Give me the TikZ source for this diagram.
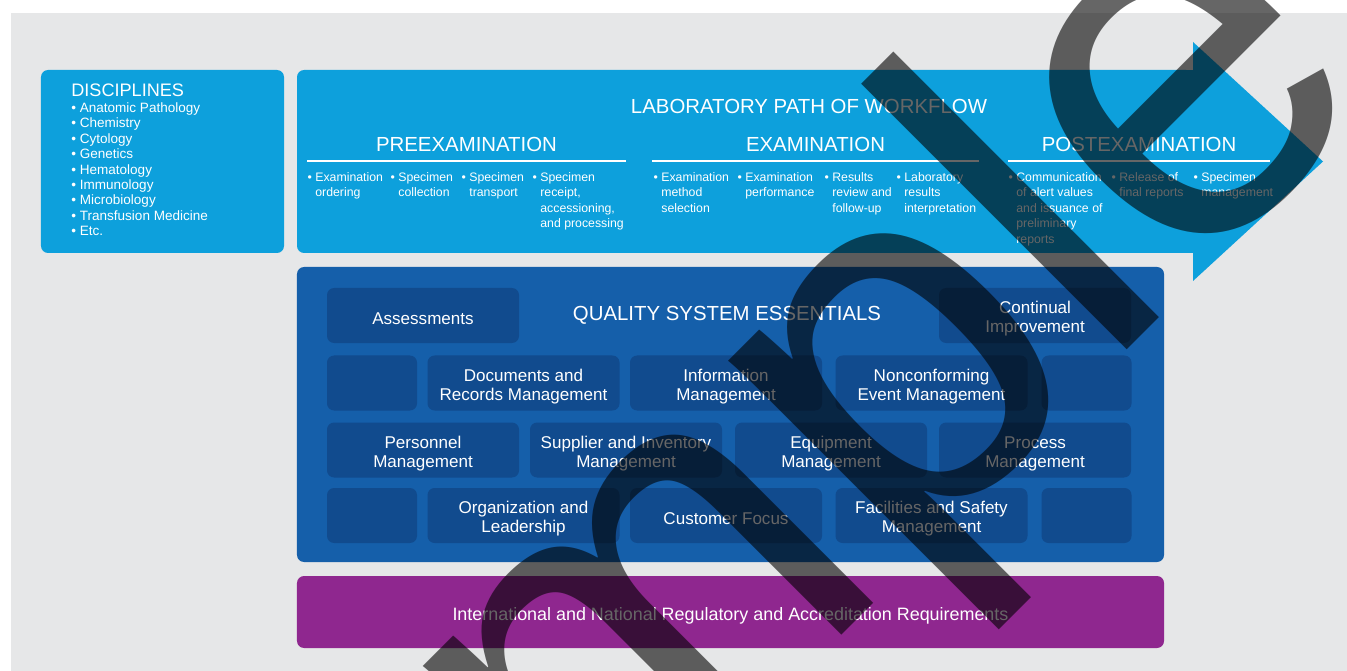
\documentclass[tikz,border=0pt]{standalone}
\usepackage{fontspec}
\setmainfont{Liberation Sans}
\usetikzlibrary{positioning}
\definecolor{paper}{HTML}{E6E7E8}
\definecolor{skyblue}{HTML}{0DA0DC}
\definecolor{qseblue}{HTML}{155FAA}
\definecolor{qsetile}{HTML}{114B8E}
\definecolor{regpurple}{HTML}{8F278F}

\begin{document}
\begin{tikzpicture}[
  x=0.2mm, y=-0.2mm,
  font=\fontsize{9.7}{10.8}\selectfont,
  panel/.style   = {inner sep=0pt, rounded corners=4pt},
  tile/.style    = {fill=qsetile, rounded corners=4pt, minimum height=11mm, inner sep=0pt},
  wide/.style    = {tile, minimum width=38.4mm},
  narrow/.style  = {tile, minimum width=18mm},
  tiletext/.style= {text=white, align=center, inner sep=0pt, yshift=-0.7mm},
  lab/.style     = {label={[tiletext]center:{#1}}},
  head/.style    = {text=white, inner sep=0pt, font=\fontsize{11.6}{13}\selectfont},
  item/.style    = {text=white, align=left, anchor=north west, inner sep=0pt,
                    font=\fontsize{7}{8.8}\selectfont},
  rule/.style    = {draw=white, line width=0.6pt},
  stamp/.style   = {text=black, text opacity=0.6, rotate=45, anchor=base, inner sep=0pt,
                    font=\fontsize{295}{295}\selectfont},
]

\useasboundingbox (0,0) rectangle (1347,671);
\fill[white] (0,0) rectangle (1347,671);
\fill[paper] (11,13) rectangle (1347,671);

% --- disciplines ----------------------------------------------------------------------------
\node[panel, fill=skyblue, minimum width=48.6mm, minimum height=36.6mm] (disc) at (162.5,161.5) {};
\node[head, anchor=west, font=\fontsize{10.3}{12}\selectfont] (disctitle) at (71,90) {DISCIPLINES};
\node[item, font=\fontsize{7.7}{8.8}\selectfont] (disclist) at (71,102)
  {\textbullet\ Anatomic Pathology\\ \textbullet\ Chemistry\\ \textbullet\ Cytology\\
   \textbullet\ Genetics\\ \textbullet\ Hematology\\ \textbullet\ Immunology\\
   \textbullet\ Microbiology\\ \textbullet\ Transfusion Medicine\\ \textbullet\ Etc.};

% --- the workflow arrow: rounded on the left, sharp into the head ----------------------------
\fill[skyblue, rounded corners=4pt] (297,70) rectangle (1193,253);
\fill[skyblue] (1150,70) rectangle (1200,253);
\fill[skyblue] (1193,42) -- (1323,161.5) -- (1193,281) -- cycle;

\node[head] (flowtitle) at (809,106.5) {LABORATORY PATH OF WORKFLOW};

\node[head] (pre)  at (466.5,144) {PREEXAMINATION};
\node[head] (exam) at (815.5,144) {EXAMINATION};
\node[head] (post) at (1139,144)  {POSTEXAMINATION};
\draw[rule] (307,161) -- (626,161);
\draw[rule] (652,161) -- (979,161);
\draw[rule] (1008,161) -- (1270,161);

% steps, bullet hung in the margin
\node[item] (pre1) at (315,172) {\llap{\textbullet\ }Examination\\ordering};
\node[item] (pre2) at (398,172) {\llap{\textbullet\ }Specimen\\collection};
\node[item] (pre3) at (469,172) {\llap{\textbullet\ }Specimen\\transport};
\node[item] (pre4) at (540,172) {\llap{\textbullet\ }Specimen\\receipt,\\accessioning,\\and processing};

\node[item] (exam1) at (661,172) {\llap{\textbullet\ }Examination\\method\\selection};
\node[item] (exam2) at (745,172) {\llap{\textbullet\ }Examination\\performance};
\node[item] (exam3) at (832,172) {\llap{\textbullet\ }Results\\review and\\follow-up};
\node[item] (exam4) at (904,172) {\llap{\textbullet\ }Laboratory\\results\\interpretation};

\node[item] (post1) at (1016,172) {\llap{\textbullet\ }Communication\\of alert values\\and issuance of\\preliminary\\reports};
\node[item] (post2) at (1119,172) {\llap{\textbullet\ }Release of\\final reports};
\node[item] (post3) at (1201,172) {\llap{\textbullet\ }Specimen\\management};

% --- quality system essentials ----------------------------------------------------------------
\node[panel, fill=qseblue, minimum width=173.4mm, minimum height=59mm] (qse) at (730.5,414.5) {};
\node[head] (qsetitle) at (727,315) {QUALITY SYSTEM ESSENTIALS};

\node[wide, lab={Assessments}]                        (assess)  at (423,315.5)  {};
\node[wide, lab={Continual\\Improvement}]             (improve) at (1035,315.5) {};

\node[narrow]                                         (blankA)  at (372,383)    {};
\node[wide, lab={Documents and\\Records Management}]  (docs)    at (523.5,383)  {};
\node[wide, lab={Information\\Management}]            (info)    at (726,383)    {};
\node[wide, lab={Nonconforming\\Event Management}]    (noncon)  at (931.5,383)  {};
\node[narrow]                                         (blankB)  at (1086.5,383) {};

\node[wide, lab={Personnel\\Management}]              (staff)   at (423,450)    {};
\node[wide, lab={Supplier and Inventory\\Management}] (supply)  at (626,450)    {};
\node[wide, lab={Equipment\\Management}]              (equip)   at (831,450)    {};
\node[wide, lab={Process\\Management}]                (process) at (1035,450)   {};

\node[narrow]                                         (blankC)  at (372,515.5)  {};
\node[wide, lab={Organization and\\Leadership}]       (org)     at (523.5,515.5){};
\node[wide, lab={Customer Focus}]                     (cust)    at (726,515.5)  {};
\node[wide, lab={Facilities and Safety\\Management}]  (safety)  at (931.5,515.5){};
\node[narrow]                                         (blankD)  at (1086.5,515.5){};

% --- requirements band ------------------------------------------------------------------------
\node[panel, fill=regpurple, minimum width=173.4mm, minimum height=14.4mm,
      label={[tiletext, font=\fontsize{10.2}{12}\selectfont]center:International and National Regulatory and Accreditation Requirements}]
  (regs) at (730.5,612) {};

% --- stamp over everything --------------------------------------------------------------------
\begin{scope}
  \clip (0,0) rectangle (1347,671);
  \node[stamp] (sample) at (766,711) {Sample};
\end{scope}

\end{tikzpicture}
\end{document}
